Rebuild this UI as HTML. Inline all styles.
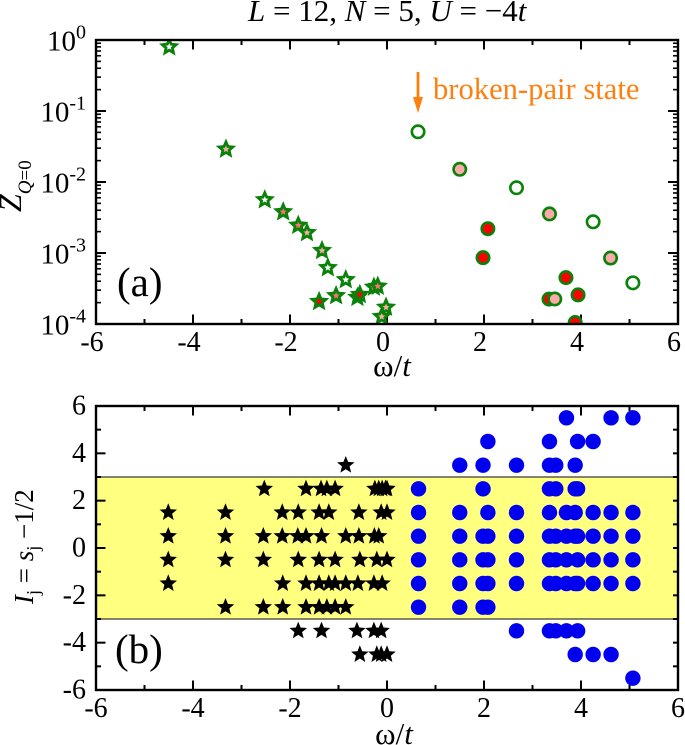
<!DOCTYPE html>
<html lang="en">
<head>
<meta charset="utf-8">
<title>Spectral weight chart</title>
<style>
html,body{margin:0;padding:0;background:#fff;width:685px;height:745px;overflow:hidden}
svg{display:block}
text{font-family:"Liberation Serif","DejaVu Serif",serif;fill:#000}
</style>
</head>
<body>
<svg id="chart" xmlns="http://www.w3.org/2000/svg" width="685" height="745" viewBox="0 0 685 745">
  <defs>
    <clipPath id="clip-a"><rect x="96" y="40" width="582" height="284"/></clipPath>
    <clipPath id="clip-b"><rect x="96" y="406" width="582" height="284"/></clipPath>
  </defs>
  <g id="panel-a"></g>
  <g id="panel-b"></g>

  <text x="248" y="21" font-size="31" xml:space="preserve"><tspan font-style="italic">L</tspan> = 12, <tspan font-style="italic">N</tspan> = 5, <tspan font-style="italic">U</tspan> = −4<tspan font-style="italic">t</tspan></text>
  <text x="117" y="296" font-size="41">(a)</text>
  <text x="115" y="663" font-size="41">(b)</text>
  <text x="433" y="99" font-size="30.6" style="fill:#ff7f0e">broken-pair state</text>
  <g>
    <rect x="416.6" y="72" width="2.8" height="28" fill="#ff7f0e"/>
    <polygon points="413,97 423,97 418,113" fill="#ff7f0e"/>
  </g>
  <text x="392" y="376" font-size="31" text-anchor="middle">ω/<tspan font-style="italic">t</tspan></text>
  <text x="394" y="744" font-size="31" text-anchor="middle">ω/<tspan font-style="italic">t</tspan></text>
  <text transform="translate(21,212) rotate(-90)" font-size="32"><tspan font-style="italic">Z</tspan><tspan font-size="19" dy="10" font-style="italic">Q</tspan><tspan font-size="19">=0</tspan></text>
  <text transform="translate(33,604) rotate(-90)" font-size="27" xml:space="preserve"><tspan font-style="italic">I</tspan><tspan font-size="18" dy="6">j</tspan><tspan dy="-6"> = </tspan><tspan font-style="italic">s</tspan><tspan font-size="18" dy="6">j</tspan><tspan dy="-6"> −1/2</tspan></text>
</svg>
<script>
// Shared x axis
const xMajorTicks = [-6, -4, -2, 0, 2, 4, 6];
const xMinorTicks = [-5, -3, -1, 1, 3, 5];

// Panel (a) axis
const logDecades = [0, -1, -2, -3, -4];
const logMinorMantissas = [2, 3, 4, 5, 6, 7, 8, 9];

// Panel (a) star series
const hiddenOmega = [-4.49, -3.32, -2.52, -2.14, -1.83, -1.65, -1.34, -1.22, -0.85, -1.40, -1.05, -0.61, -0.56, -0.27, -0.19, -0.02, -0.11];
const hiddenZ = [0.80, 0.029, 5.6e-3, 3.8e-3, 2.45e-3, 1.93e-3, 1.08e-3, 6.2e-4, 4.2e-4, 2.07e-4, 2.5e-4, 2.37e-4, 2.6e-4, 3.3e-4, 3.4e-4, 1.72e-4, 1.27e-4];
const hiddenWeight = [0, 1, 0, 2, 2, 1, 1, 0, 0, 3, 2, 3, 3, 2, 2, 1, 1];

// Panel (a) circle series
const pairOmega = [0.64, 1.50, 2.67, 3.35, 2.08, 4.25, 1.98, 4.61, 5.07, 3.69, 3.94, 3.34, 3.46, 3.88];
const pairZ = [0.051, 0.0151, 8.3e-3, 3.55e-3, 2.2e-3, 2.75e-3, 8.6e-4, 8.5e-4, 3.8e-4, 4.5e-4, 2.57e-4, 2.24e-4, 2.25e-4, 1.05e-4];
const pairWeight = [0, 1, 0, 1, 3, 0, 3, 1, 0, 3, 3, 3, 1, 3];

// Panel (b) axis
const iMajorTicks = [6, 4, 2, 0, -2, -4, -6];
const iMinorTicks = [5, 3, 1, -1, -3, -5];
const bandEdges = [3, -3];

// Panel (b) star rows
const starRowI = [3.5, 2.5, 1.5, 0.5, -0.5, -1.5, -2.5, -3.5, -4.5];
const starRowOmega = [
  [-0.85],
  [-2.53, -1.67, -1.36, -1.24, -1.07, -0.25, -0.17, -0.10, -0.03, 0.0],
  [-4.51, -3.33, -2.16, -1.83, -1.40, -1.20, -0.58, -0.12, 0.0],
  [-4.51, -3.33, -2.55, -2.16, -1.84, -1.67, -1.35, -0.85, -0.58, -0.26, -0.17],
  [-4.51, -3.33, -2.55, -1.83, -1.40, -1.07, -0.56, -0.21, 0.0],
  [-4.51, -2.15, -1.67, -1.40, -1.20, -1.07, -0.85, -0.60, -0.27, -0.10],
  [-3.33, -2.55, -2.15, -1.67, -1.40, -1.24, -1.07, -0.85],
  [-1.83, -1.35, -0.62, -0.27, -0.12],
  [-0.56, -0.21, -0.12, 0.0]
];

// Panel (b) circle rows
const circleRowI = [5.5, 4.5, 3.5, 2.5, 1.5, 0.5, -0.5, -1.5, -2.5, -3.5, -4.5, -5.5];
const circleRowOmega = [
  [3.70, 4.62, 5.07],
  [2.08, 3.35, 3.93, 4.25],
  [1.50, 1.98, 2.67, 3.35, 3.48, 3.88],
  [0.65, 1.98, 3.35, 3.48, 3.88, 3.93],
  [0.65, 1.50, 2.08, 2.67, 3.35, 3.70, 3.88, 4.25, 4.62, 5.07],
  [0.65, 1.50, 1.98, 2.08, 2.67, 3.35, 3.48, 3.70, 3.88, 3.93, 4.25, 4.62, 5.07],
  [0.65, 1.50, 1.98, 2.08, 2.67, 3.35, 3.48, 3.70, 3.93, 4.25, 4.62, 5.07],
  [0.65, 1.50, 1.98, 2.08, 2.67, 3.35, 3.48, 3.70, 3.88, 3.93, 4.25, 4.62, 5.07],
  [0.65, 1.50, 1.98, 2.08],
  [2.67, 3.35, 3.48, 3.70, 3.93],
  [3.88, 4.25, 4.62],
  [5.07]
];

const NS = 'http://www.w3.org/2000/svg';
const L = 96, R = 678;
const A_T = 40, A_B = 324, B_T = 406, B_B = 690;
const sx = w => L + (w + 6) / 12 * (R - L);
const syA = z => A_T + (-Math.log10(z)) / 4 * (A_B - A_T);
const syB = v => B_T + (6 - v) / 12 * (B_B - B_T);
const weightFill = ['#ffffff', '#ffaaaa', '#ff7272', '#ff0000'];

function mk(parent, tag, attrs, txt) {
  const el = document.createElementNS(NS, tag);
  for (const k in attrs) el.setAttribute(k, attrs[k]);
  if (txt !== undefined) el.textContent = txt;
  parent.appendChild(el);
  return el;
}
function starPts(cx, cy, r, inner) {
  const p = [];
  for (let i = 0; i < 10; i++) {
    const rad = i % 2 ? r * inner : r;
    const a = -Math.PI / 2 + i * Math.PI / 5;
    p.push((cx + rad * Math.cos(a)).toFixed(2) + ',' + (cy + rad * Math.sin(a)).toFixed(2));
  }
  return p.join(' ');
}
function line(parent, x1, y1, x2, y2, w) {
  return mk(parent, 'line', {x1: x1, y1: y1, x2: x2, y2: y2, stroke: '#000', 'stroke-width': w});
}

function xAxis(parent, top, bottom, labelShift) {
  const g = mk(parent, 'g', {});
  
  
  xMajorTicks.forEach(v => {
    const tk = line(g, sx(v), bottom, sx(v), bottom - 9.5, 2);
    
    
    const tk2 = line(g, sx(v), top, sx(v), top + 9.5, 2);
    
    
    const t = mk(g, 'text', {x: sx(v) + labelShift, y: bottom + 27, 'font-size': 28, 'text-anchor': 'middle'}, String(v));
    
    
  });
  xMinorTicks.forEach(v => {
    const tk = line(g, sx(v), bottom, sx(v), bottom - 5, 2);
    
    
    const tk2 = line(g, sx(v), top, sx(v), top + 5, 2);
    
    
  });
}
function frame(parent, top, bottom) {
  const f = mk(parent, 'rect', {x: L, y: top, width: R - L, height: bottom - top, fill: 'none', stroke: '#000', 'stroke-width': 2.4});
  
  
}

// Panel (a)
const pa = document.getElementById('panel-a');
const ya = mk(pa, 'g', {});


logDecades.forEach(d => {
  const y = syA(Math.pow(10, d));
  [[L, L + 10], [R, R - 10]].forEach(s => {
    const tk = line(ya, s[0], y, s[1], y, 2);
    
    
  });
  const t = mk(ya, 'text', {x: 86, y: y + 10.5, 'font-size': 29, 'text-anchor': 'end'});
  
  
  mk(t, 'tspan', {}, '10');
  mk(t, 'tspan', {'font-size': 20, dy: -12}, String(d));
  if (d > -4) {
    logMinorMantissas.forEach(m => {
      const ym = syA(m * Math.pow(10, d - 1));
      [[L, L + 5], [R, R - 5]].forEach(s => {
        const tk = line(ya, s[0], ym, s[1], ym, 1.6);
        
        
      });
    });
  }
});
xAxis(pa, A_T, A_B, -4);
const ma = mk(pa, 'g', {'clip-path': 'url(#clip-a)'});


hiddenOmega.forEach((w, i) => {
  const s = mk(ma, 'polygon', {points: starPts(sx(w), syA(hiddenZ[i]), 7.2, 0.46), fill: weightFill[hiddenWeight[i]], stroke: '#0a820a', 'stroke-width': 2.8, 'stroke-linejoin': 'miter'});
  
  
});
pairOmega.forEach((w, i) => {
  const c = mk(ma, 'circle', {cx: sx(w), cy: syA(pairZ[i]), r: 6.2, fill: weightFill[pairWeight[i]], stroke: '#0a820a', 'stroke-width': 2.6});
  
  
});
frame(pa, A_T, A_B);

// Panel (b)
const pb = document.getElementById('panel-b');
const band = mk(pb, 'rect', {x: L, y: syB(bandEdges[0]), width: R - L, height: syB(bandEdges[1]) - syB(bandEdges[0]), fill: '#ffff80', stroke: '#333', 'stroke-width': 1.2});


const yb = mk(pb, 'g', {});


iMajorTicks.forEach(v => {
  const y = syB(v);
  const tk = line(yb, L, y, L + 9.5, y, 2);
  
  
  const tk2 = line(yb, R, y, R - 5, y, 2);
  
  
  const t = mk(yb, 'text', {x: 86, y: y + 8.5, 'font-size': 28, 'text-anchor': 'end'}, String(v));
  
  
});
iMinorTicks.forEach(v => {
  const y = syB(v);
  const tk = line(yb, L, y, L + 5, y, 2);
  
  
  const tk2 = line(yb, R, y, R - 5, y, 2);
  
  
});
xAxis(pb, B_T, B_B, 0);
const mb = mk(pb, 'g', {'clip-path': 'url(#clip-b)'});


starRowI.forEach((v, r) => {
  starRowOmega[r].forEach(w => {
    const s = mk(mb, 'polygon', {points: starPts(sx(w), syB(v), 9.2, 0.44), fill: '#000'});
    
    
  });
});
circleRowI.forEach((v, r) => {
  circleRowOmega[r].forEach(w => {
    const c = mk(mb, 'circle', {cx: sx(w), cy: syB(v), r: 7.7, fill: '#0000ee'});
    
    
  });
});
frame(pb, B_T, B_B);
</script>
</body>
</html>
